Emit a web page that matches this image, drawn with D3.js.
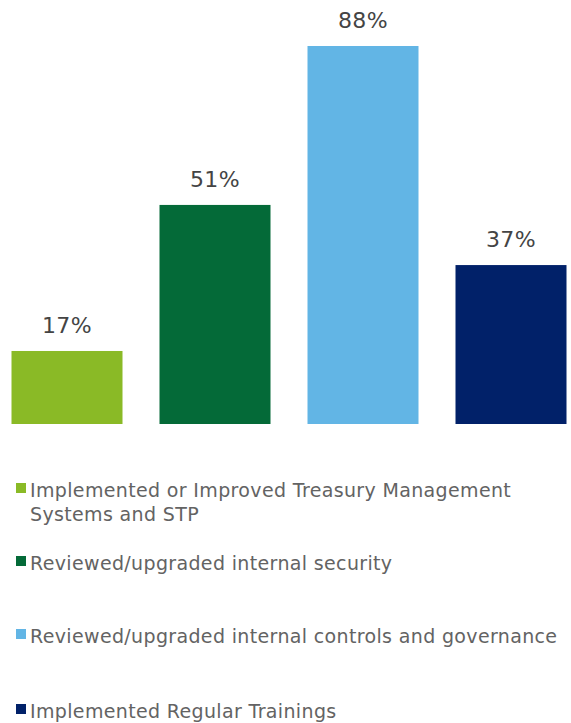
<!DOCTYPE html>
<html>
<head>
<meta charset="utf-8">
<script src="https://cdn.jsdelivr.net/npm/d3@7"></script>
<style>
  body { margin: 0; background: #fff; }
  text { font-family: Verdana, "DejaVu Sans", sans-serif; }
</style>
</head>
<body>
<svg id="chart" width="571" height="723"></svg>
<script>
// Chart data
var categories = [
  'Implemented or Improved Treasury Management Systems and STP',
  'Reviewed/upgraded internal security',
  'Reviewed/upgraded internal controls and governance',
  'Implemented Regular Trainings'
];
var values = [17, 51, 88, 37];
var colors = ['#8aba26', '#046a38', '#62b5e5', '#012169'];
var legendLines = [
  ['Implemented or Improved Treasury Management', 'Systems and STP'],
  ['Reviewed/upgraded internal security'],
  ['Reviewed/upgraded internal controls and governance'],
  ['Implemented Regular Trainings']
];
var legendY = [497, 570, 643, 718];

var svg = d3.select('#chart');

var x = d3.scaleBand()
  .domain(categories)
  .range([-7, 585])
  .paddingInner(0.25)
  .paddingOuter(0.125);

var y = d3.scaleLinear()
  .domain([0, 88])
  .range([424, 46]);

// Bars
svg.selectAll('rect.bar')
  .data(categories)
  .enter()
  .append('rect')
  .attr('class', 'bar')
  .attr('x', function(d) { return x(d); })
  .attr('width', x.bandwidth())
  .attr('y', function(d, i) { return y(values[i]); })
  .attr('height', function(d, i) { return y(0) - y(values[i]); })
  .attr('fill', function(d, i) { return colors[i]; });

// Value labels
svg.selectAll('text.value')
  .data(categories)
  .enter()
  .append('text')
  .attr('class', 'value')
  .attr('x', function(d) { return x(d) + x.bandwidth() / 2; })
  .attr('y', function(d, i) { return y(values[i]) - 18; })
  .attr('text-anchor', 'middle')
  .attr('font-size', 22)
  .attr('letter-spacing', 0.4)
  .attr('fill', '#444')
  .text(function(d, i) { return values[i] + '%'; });

// Legend
var legend = svg.selectAll('g.legend')
  .data(categories)
  .enter()
  .append('g')
  .attr('class', 'legend');

legend.append('rect')
  .attr('x', 16)
  .attr('y', function(d, i) { return legendY[i] - 14; })
  .attr('width', 10)
  .attr('height', 10)
  .attr('fill', function(d, i) { return colors[i]; });

legend.append('text')
  .attr('font-size', 19)
  .attr('letter-spacing', 0.35)
  .attr('fill', '#636363')
  .each(function(d, i) {
    d3.select(this).selectAll('tspan')
      .data(legendLines[i])
      .enter()
      .append('tspan')
      .attr('x', 30)
      .attr('y', function(t, j) { return legendY[i] + j * 24; })
      .text(String);
  });
</script>
</body>
</html>
